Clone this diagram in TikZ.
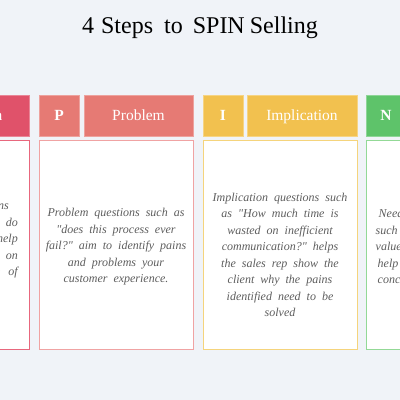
\documentclass[tikz,border=0pt]{standalone}
\usepackage{fontspec}
\setmainfont{Liberation Serif}[Ligatures=TeXOff]
\definecolor{bg}{HTML}{F0F3F8}
\definecolor{cS}{HTML}{E0526A}
\definecolor{cP}{HTML}{E67A74}
\definecolor{cI}{HTML}{F2C14F}
\definecolor{cN}{HTML}{5EC36A}
\definecolor{bS}{HTML}{E8677D}
\definecolor{bP}{HTML}{F0A3A3}
\definecolor{bI}{HTML}{F5D47C}
\definecolor{bN}{HTML}{93D996}
\definecolor{txt}{HTML}{5E5E5E}
\newcommand{\mybodyfont}{\fontsize{12}{16.5}\selectfont\itshape\spaceskip=6pt plus 1pt minus 0.5pt\relax}
\tikzset{
  hdr/.style={anchor=north west, inner sep=0pt, outer sep=0pt, minimum height=41pt,
    text=white, font=\fontsize{15.5}{18}\selectfont, text height=10.5pt, text depth=0pt, line width=0.8pt},
  card/.style={anchor=north west, inner sep=0pt, outer sep=0pt, minimum width=154pt,
    minimum height=209pt, fill=white, line width=1pt},
  shadowbox/.style={anchor=north west, inner sep=0pt, outer sep=0pt, minimum width=154pt,
    minimum height=209pt, fill=black!12, draw=none},
  body/.style={text=txt, inner sep=0pt, font=\mybodyfont},
}
\begin{document}
\begin{tikzpicture}[x=1pt,y=-1pt]
\useasboundingbox (0,0) rectangle (400,400);
\fill[bg] (0,0) rectangle (400,400);
\clip (0,0) rectangle (400,400);

\node[anchor=base, font=\fontsize{24}{28}\selectfont] (title) at (200,33)
  {4\hspace{7pt}Steps\hspace{11pt}to\hspace{10pt}SPIN\hspace{5pt}Selling};

% S column (partly off the page)
\node[hdr, fill=cS, draw=cS!70!white, minimum width=40pt] (sl) at (-125,95) {\bfseries S};
\node[hdr, fill=cS, draw=cS!70!white, minimum width=109pt] (sh) at (-80,95) {Situation};
\node[shadowbox] (ss) at (-124.5,141) {};
\node[card, draw=bS] (sc) at (-125,140) {};
\node[body, align=right, anchor=north east] (st) at (18,201.5)
  {Situation questions\hspace*{9pt}\\
   such as "What tools do\\
   you use?" aim to help\hspace*{1pt}\\
   gather information on\hspace*{10pt}\\
   the current state\hspace{8pt}of};

% P column
\node[hdr, fill=cP, draw=cP!70!white, minimum width=40pt] (pl) at (39,95) {\bfseries P};
\node[hdr, fill=cP, draw=cP!70!white, minimum width=109pt] (ph) at (84,95) {Problem};
\node[shadowbox] (ps) at (39.5,141) {};
\node[card, draw=bP] (pc) at (39,140) {};
\node[body, align=center] (pt) at (116,247)
  {Problem questions such as\\
   "does this process ever\\
   fail?" aim to identify pains\\
   and problems your\\
   customer experience.};

% I column
\node[hdr, fill=cI, draw=cI!70!white, minimum width=40pt] (il) at (203,95) {\bfseries I};
\node[hdr, fill=cI, draw=cI!70!white, minimum width=110pt] (ih) at (247,95) {Implication};
\node[shadowbox] (is) at (203.5,141) {};
\node[card, draw=bI] (ic) at (203,140) {};
\node[body, align=center] (it) at (280,255)
  {Implication questions such\\
   as "How much time is\\
   wasted on inefficient\\
   communication?" helps\\
   the sales rep show the\\
   client why the pains\\
   identified need to be\\
   solved};

% N column (partly off the page)
\node[hdr, fill=cN, draw=cN!70!white, minimum width=40pt] (nl) at (366,95) {\bfseries N};
\node[hdr, fill=cN, draw=cN!70!white, minimum width=110pt] (nh) at (410,95) {Need-payoff};
\node[shadowbox] (ns) at (366.5,141) {};
\node[card, draw=bN] (nc) at (366,140) {};
\node[body, align=left, anchor=north west] (nt) at (375.5,209)
  {\hspace*{3pt}Need-payoff questions\\
   such as "What is the\\
   value of solving this?"\\
   \hspace*{2pt}help the client come to a\\
   \hspace*{2pt}conclusion on the solution};
\end{tikzpicture}
\end{document}
